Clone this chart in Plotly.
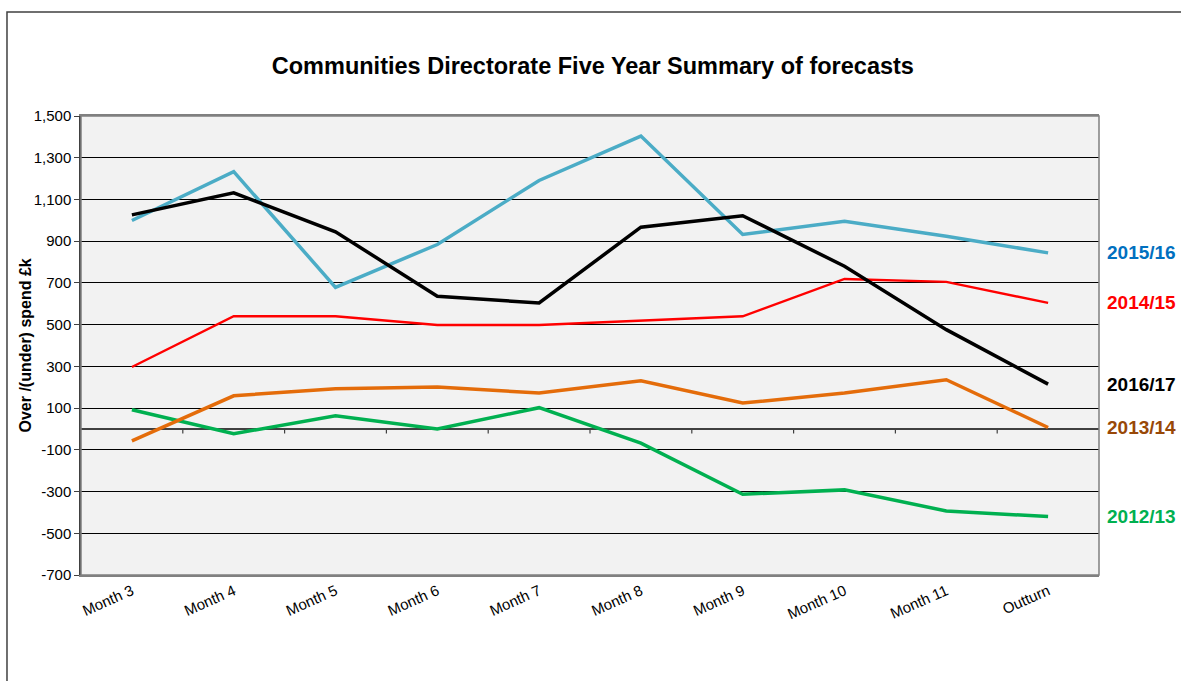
import plotly.graph_objects as go

categories = ["Month 3", "Month 4", "Month 5", "Month 6", "Month 7",
              "Month 8", "Month 9", "Month 10", "Month 11", "Outturn"]

y2012_13 = [92, -23, 63, 0, 102, -68, -313, -292, -393, -420]
y2013_14 = [-57, 159, 193, 201, 172, 231, 124, 172, 236, 7]
y2014_15 = [297, 540, 540, 498, 498, 519, 540, 719, 705, 604]
y2015_16 = [999, 1233, 679, 884, 1191, 1404, 932, 996, 924, 844]
y2016_17 = [1026, 1132, 945, 636, 604, 967, 1022, 780, 476, 215]

series = [
    ("2012/13", y2012_13, "#00b050", 3.5, "#00b050"),
    ("2013/14", y2013_14, "#e46c0a", 3.5, "#984807"),
    ("2014/15", y2014_15, "#ff0000", 2.4, "#ff0000"),
    ("2015/16", y2015_16, "#4bacc6", 3.5, "#0070c0"),
    ("2016/17", y2016_17, "#000000", 3.5, "#000000"),
]

y_ticks = [-700, -500, -300, -100, 100, 300, 500, 700, 900, 1100, 1300, 1500]
y_tick_labels = ["-700", "-500", "-300", "-100", "100", "300", "500", "700",
                 "900", "1,100", "1,300", "1,500"]

FONT = "Liberation Sans, Arial"

fig = go.Figure()
x_idx = list(range(len(categories)))
for name, vals, col, w, lab_col in series:
    fig.add_trace(go.Scatter(x=x_idx, y=vals, mode="lines", name=name,
                             line=dict(color=col, width=w), showlegend=False))
    fig.add_annotation(x=1.0059, xref="paper", y=vals[-1], yref="y",
                       text="<b>%s</b>" % name, showarrow=False,
                       xanchor="left", yanchor="middle",
                       font=dict(family=FONT, size=19, color=lab_col))

# y-axis title as rotated annotation
fig.add_annotation(x=-0.055, xref="paper", y=0.5, yref="paper",
                   text="<b>Over /(under) spend £k</b>", textangle=-90,
                   showarrow=False, xanchor="center", yanchor="middle",
                   font=dict(family=FONT, size=16, color="black"))

shapes = []
# tick marks on zero line at category boundaries
for i in range(1, len(categories)):
    shapes.append(dict(type="line", xref="x", yref="y", x0=i - 0.5, x1=i - 0.5,
                       y0=0, y1=-22, line=dict(color="#404040", width=1.2)))
# outer chart border (left and top)
shapes.append(dict(type="path", xref="paper", yref="paper",
                   path="M -0.0727,-0.3 L -0.0727,1.2266 L 1.1,1.2266",
                   line=dict(color="#404040", width=1.5)))

fig.update_layout(
    width=1181, height=681,
    margin=dict(l=81, r=82, t=116, b=106),
    paper_bgcolor="white",
    plot_bgcolor="#f2f2f2",
    title=dict(text="<b>Communities Directorate Five Year Summary of forecasts</b>",
               x=0.502, xanchor="center", y=1 - 66 / 681, yanchor="middle",
               font=dict(family=FONT, size=23.5, color="black")),
    font=dict(family=FONT, size=15, color="black"),
    shapes=shapes,
)
fig.update_xaxes(
    tickmode="array", tickvals=x_idx, ticktext=categories,
    range=[-0.5, len(categories) - 0.5],
    tickangle=-24, ticks="", showgrid=False,
    showline=True, linecolor="#808080", linewidth=1.5, mirror=True,
    tickfont=dict(size=15), zeroline=False,
)
fig.update_yaxes(
    range=[-700, 1500], tickmode="array", tickvals=y_ticks, ticktext=y_tick_labels,
    showgrid=True, gridcolor="#000000", gridwidth=1,
    showline=True, linecolor="#404040", linewidth=1.5, mirror=False,
    ticks="outside", ticklen=5, tickcolor="#404040",
    zeroline=True, zerolinecolor="#404040", zerolinewidth=1.5,
    tickfont=dict(size=15),
)
# gray border of plot area
fig.add_shape(type="rect", xref="paper", yref="paper", x0=0, x1=1, y0=0, y1=1,
              line=dict(color="#808080", width=1.5), layer="above")

fig.write_html("out.html")
